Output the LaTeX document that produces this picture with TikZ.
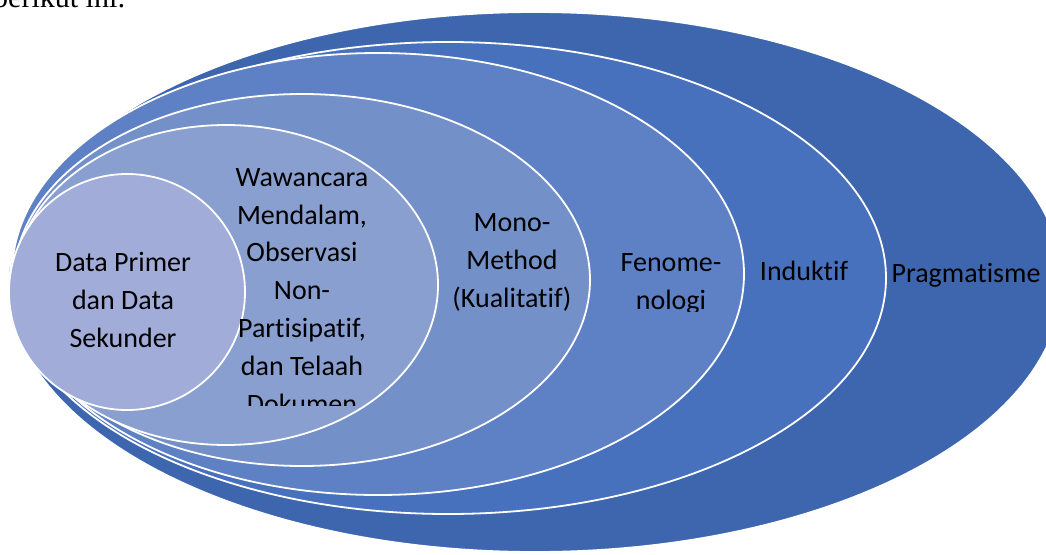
\documentclass[tikz,border=0pt]{standalone}
\usepackage{fontspec}
\setmainfont{Carlito}[RawFeature=-liga]
\newfontfamily\pageserif{Liberation Serif}
\definecolor{pragmafill}{HTML}{3D66AF}
\definecolor{induktiffill}{HTML}{4871BD}
\definecolor{fenofill}{HTML}{5E80C5}
\definecolor{monofill}{HTML}{7490C9}
\definecolor{metodefill}{HTML}{889FD0}
\definecolor{datafill}{HTML}{A1ACD8}
\tikzset{
  ring/.style = {draw=white, line width=1.8pt},
  ringtext/.style = {
    align=center, inner sep=0, anchor=base,
    font=\fontsize{28}{37.8}\selectfont
  }
}

\begin{document}
\begin{tikzpicture}[x=1pt,y=-1pt]
  \useasboundingbox (0,0) rectangle (1046,554);
  \clip (0,0) rectangle (1046,554);
  % line of the page text above the figure
  \node[anchor=base west, inner sep=0,
    font=\pageserif\fontsize{30}{36}\selectfont] (intro) at (-7,8) {berikut ini:};
  % nested rings, outside in
  \draw[ring, fill=pragmafill] (535,282) ellipse [x radius=527, y radius=270];
  \draw[ring, fill=induktiffill] (448,278) ellipse [x radius=438, y radius=236];
  \draw[ring, fill=fenofill] (378,274) ellipse [x radius=366, y radius=221];
  \draw[ring, fill=monofill] (302,280) ellipse [x radius=288, y radius=186];
  \draw[ring, fill=metodefill] (226,285) ellipse [x radius=212, y radius=160];
  \draw[ring, fill=datafill] (127,292) ellipse [x radius=118, y radius=118];
  % labels (anchor base = last line)
  \node[ringtext] (data) at (123,347) {Data Primer\\dan Data\\Sekunder};
  \begin{scope}
    \clip (150,150) rectangle (450,405);
    \node[ringtext] (metode) at (302,413) {Wawancara\\Mendalam,\\Observasi\\Non-\\Partisipatif,\\dan Telaah\\Dokumen};
  \end{scope}
  \node[ringtext] (mono) at (512,307) {Mono-\\Method\\(Kualitatif)};
  \begin{scope}
    \clip (600,230) rectangle (745,311);
    \node[ringtext] (feno) at (671,309) {Fenome-\\nologi};
  \end{scope}
  \node[ringtext] (induktif) at (804,280) {Induktif};
  \begin{scope}
    \clip (880,230) rectangle (1046,287);
    \node[ringtext] (pragma) at (966,282) {Pragmatisme};
  \end{scope}
\end{tikzpicture}
\end{document}
